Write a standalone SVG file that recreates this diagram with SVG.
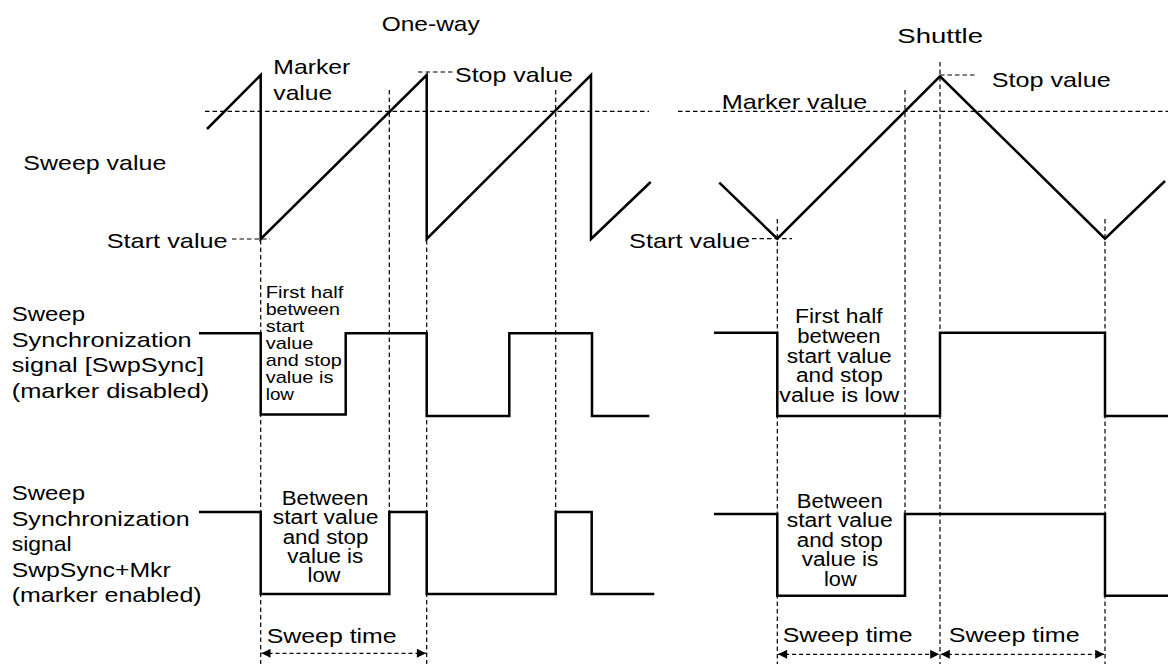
<svg xmlns="http://www.w3.org/2000/svg" width="1168" height="664" viewBox="0 0 1168 664">
<style>
  text { font-family: "Liberation Sans", Arial, sans-serif; fill: #000; }
  .t21 { font-size: 21px; }
  .t17 { font-size: 17px; }
  .t19 { font-size: 19.5px; }
  .wave { fill: none; stroke: #000; stroke-width: 2.5; stroke-linejoin: miter; stroke-linecap: butt; }
  .dash { fill: none; stroke: #000; stroke-width: 1.2; stroke-dasharray: 4.5,3; }
  .arr { fill: none; stroke: #000; stroke-width: 1.2; stroke-dasharray: 4,3; marker-start: url(#ah); marker-end: url(#ah); }
</style>
<defs>
  <marker id="ah" viewBox="0 0 10 10" refX="10" refY="5" markerWidth="10" markerHeight="9" markerUnits="userSpaceOnUse" orient="auto-start-reverse">
    <path d="M0,0 L10,5 L0,10 z" fill="#000"/>
  </marker>
</defs>
<rect width="1168" height="664" fill="#fff"/>

<g id="guides">
  <line class="dash" x1="205" y1="111.3" x2="649" y2="111.3"/>
  <line class="dash" x1="678" y1="111.3" x2="1168" y2="111.3"/>
  <line class="dash" x1="232" y1="239" x2="270" y2="239"/>
  <line class="dash" x1="418" y1="72" x2="453" y2="72"/>
  <line class="dash" x1="752" y1="238.7" x2="792" y2="238.7"/>
  <line class="dash" x1="940" y1="75" x2="976" y2="75"/>
  <line class="dash" x1="260.7" y1="240" x2="260.7" y2="664"/>
  <line class="dash" x1="389.3" y1="90" x2="389.3" y2="512"/>
  <line class="dash" x1="426.7" y1="240" x2="426.7" y2="664"/>
  <line class="dash" x1="555.7" y1="90" x2="555.7" y2="512"/>
  <line class="dash" x1="777.3" y1="219" x2="777.3" y2="664"/>
  <line class="dash" x1="905" y1="90" x2="905" y2="514"/>
  <line class="dash" x1="940" y1="62" x2="940" y2="664"/>
  <line class="dash" x1="1105" y1="219" x2="1105" y2="664"/>
</g>

<g id="oneway-sweep">
  <polyline class="wave" points="207,129 260.7,75 260.7,239 426.7,75 426.7,239 591,75 591,239 650.7,182"/>
</g>
<g id="shuttle-sweep">
  <polyline class="wave" points="719.3,182.7 777.3,238.7 940,76.3 1105,238.7 1165,181"/>
</g>
<g id="oneway-swpsync">
  <polyline class="wave" points="199,333.3 260.7,333.3 260.7,414.5 345.7,414.5 345.7,333.3 426.7,333.3 426.7,416 509.3,416 509.3,333.3 592,333.3 592,416 649.3,416"/>
</g>
<g id="shuttle-swpsync">
  <polyline class="wave" points="714,332.7 777.3,332.7 777.3,416 940,416 940,332.7 1105,332.7 1105,416 1168,416"/>
</g>
<g id="oneway-swpsyncmkr">
  <polyline class="wave" points="199,512 260.7,512 260.7,594 389.3,594 389.3,512 426.7,512 426.7,594 555.7,594 555.7,512 591.7,512 591.7,594 654.3,594"/>
</g>
<g id="shuttle-swpsyncmkr">
  <polyline class="wave" points="714,514 777.3,514 777.3,595.7 905,595.7 905,514 1105,514 1105,595.7 1168,595.7"/>
</g>

<g id="connectors">
  <line class="arr" x1="261.5" y1="653.3" x2="425.9" y2="653.3"/>
  <line class="arr" x1="778.1" y1="654.3" x2="939.2" y2="654.3"/>
  <line class="arr" x1="940.8" y1="654.3" x2="1104.2" y2="654.3"/>
</g>

<g id="titles">
  <text class="t21" x="381.7" y="31" textLength="98" lengthAdjust="spacingAndGlyphs">One-way</text>
  <text class="t21" x="897.3" y="42.7" textLength="85.7" lengthAdjust="spacingAndGlyphs">Shuttle</text>
</g>

<g id="sweep-labels">
  <text class="t21" x="273.3" y="74" textLength="77" lengthAdjust="spacingAndGlyphs">Marker</text>
  <text class="t21" x="273.3" y="100" textLength="59" lengthAdjust="spacingAndGlyphs">value</text>
  <text class="t21" x="455" y="81.7" textLength="118" lengthAdjust="spacingAndGlyphs">Stop value</text>
  <text class="t21" x="23.3" y="169.5" textLength="143" lengthAdjust="spacingAndGlyphs">Sweep value</text>
  <text class="t21" x="106.7" y="248" textLength="121" lengthAdjust="spacingAndGlyphs">Start value</text>
  <text class="t21" x="721.7" y="109" textLength="145.7" lengthAdjust="spacingAndGlyphs">Marker value</text>
  <text class="t21" x="991.7" y="87.3" textLength="119" lengthAdjust="spacingAndGlyphs">Stop value</text>
  <text class="t21" x="629" y="248" textLength="121" lengthAdjust="spacingAndGlyphs">Start value</text>
</g>

<g id="swpsync-label">
  <text class="t21" x="11.7" y="320.7" textLength="73.3" lengthAdjust="spacingAndGlyphs">Sweep</text>
  <text class="t21" x="11.7" y="346.7" textLength="180" lengthAdjust="spacingAndGlyphs">Synchronization</text>
  <text class="t21" x="11.7" y="372" textLength="192.3" lengthAdjust="spacingAndGlyphs">signal [SwpSync]</text>
  <text class="t21" x="11.7" y="397.5" textLength="197.6" lengthAdjust="spacingAndGlyphs">(marker disabled)</text>
</g>

<g id="swpsyncmkr-label">
  <text class="t21" x="11.7" y="500" textLength="73.3" lengthAdjust="spacingAndGlyphs">Sweep</text>
  <text class="t21" x="11.7" y="526" textLength="178" lengthAdjust="spacingAndGlyphs">Synchronization</text>
  <text class="t21" x="11.7" y="551" textLength="60" lengthAdjust="spacingAndGlyphs">signal</text>
  <text class="t21" x="11.7" y="576.7" textLength="159" lengthAdjust="spacingAndGlyphs">SwpSync+Mkr</text>
  <text class="t21" x="11.7" y="602.3" textLength="190" lengthAdjust="spacingAndGlyphs">(marker enabled)</text>
</g>

<g id="oneway-swpsync-note">
  <text class="t17" x="265.7" y="298.3" textLength="77.7" lengthAdjust="spacingAndGlyphs">First half</text>
  <text class="t17" x="265.7" y="315.3" textLength="74.3" lengthAdjust="spacingAndGlyphs">between</text>
  <text class="t17" x="265.7" y="332.3" textLength="38.7" lengthAdjust="spacingAndGlyphs">start</text>
  <text class="t17" x="265.7" y="349.3" textLength="47.7" lengthAdjust="spacingAndGlyphs">value</text>
  <text class="t17" x="265.7" y="366.3" textLength="76" lengthAdjust="spacingAndGlyphs">and stop</text>
  <text class="t17" x="265.7" y="383.3" textLength="67.7" lengthAdjust="spacingAndGlyphs">value is</text>
  <text class="t17" x="265.7" y="400.3" textLength="28.3" lengthAdjust="spacingAndGlyphs">low</text>
</g>

<g id="shuttle-swpsync-note">
  <text class="t19" x="795" y="323.3" textLength="87.7" lengthAdjust="spacingAndGlyphs">First half</text>
  <text class="t19" x="797.3" y="343" textLength="83.3" lengthAdjust="spacingAndGlyphs">between</text>
  <text class="t19" x="786.7" y="362.6" textLength="105" lengthAdjust="spacingAndGlyphs">start value</text>
  <text class="t19" x="796" y="382.2" textLength="86.7" lengthAdjust="spacingAndGlyphs">and stop</text>
  <text class="t19" x="779.3" y="401.8" textLength="120" lengthAdjust="spacingAndGlyphs">value is low</text>
</g>

<g id="oneway-swpsyncmkr-note">
  <text class="t19" x="281.7" y="505" textLength="86.7" lengthAdjust="spacingAndGlyphs">Between</text>
  <text class="t19" x="272.7" y="524.3" textLength="105.7" lengthAdjust="spacingAndGlyphs">start value</text>
  <text class="t19" x="282.7" y="543.6" textLength="85.7" lengthAdjust="spacingAndGlyphs">and stop</text>
  <text class="t19" x="287.3" y="562.9" textLength="76" lengthAdjust="spacingAndGlyphs">value is</text>
  <text class="t19" x="307.5" y="582.2" textLength="33" lengthAdjust="spacingAndGlyphs">low</text>
</g>

<g id="shuttle-swpsyncmkr-note">
  <text class="t19" x="796.7" y="508.3" textLength="86" lengthAdjust="spacingAndGlyphs">Between</text>
  <text class="t19" x="786.7" y="527.3" textLength="106" lengthAdjust="spacingAndGlyphs">start value</text>
  <text class="t19" x="796.7" y="546.7" textLength="86" lengthAdjust="spacingAndGlyphs">and stop</text>
  <text class="t19" x="801.7" y="566" textLength="76.7" lengthAdjust="spacingAndGlyphs">value is</text>
  <text class="t19" x="824" y="585.7" textLength="32.7" lengthAdjust="spacingAndGlyphs">low</text>
</g>

<g id="sweep-time-labels">
  <text class="t21" x="266.7" y="643" textLength="130" lengthAdjust="spacingAndGlyphs">Sweep time</text>
  <text class="t21" x="782.7" y="641.7" textLength="130" lengthAdjust="spacingAndGlyphs">Sweep time</text>
  <text class="t21" x="948.7" y="641.7" textLength="131" lengthAdjust="spacingAndGlyphs">Sweep time</text>
</g>
</svg>
